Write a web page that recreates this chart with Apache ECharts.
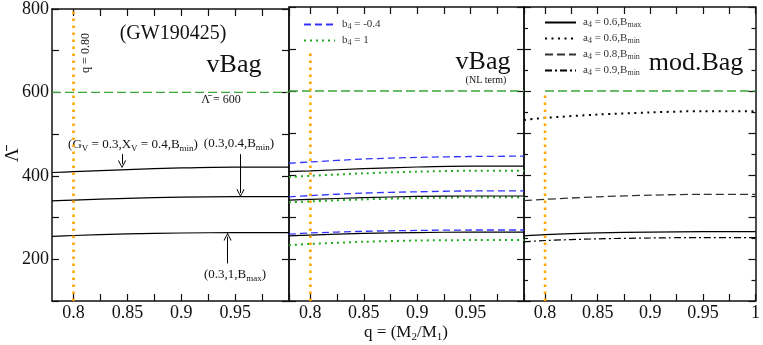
<!DOCTYPE html>
<html><head><meta charset="utf-8">
<script src="https://cdn.jsdelivr.net/npm/echarts@6/dist/echarts.min.js"></script>
<style>html,body{margin:0;padding:0;background:#fff}#c{width:763px;height:345px}</style>
</head><body><div id="c"></div>
<script>
// ---- data ----
const q = [0.78, 0.8, 0.85, 0.9, 0.95, 1.0];
const vBagUpper = [408, 410, 415, 419, 421, 421];
const vBagMiddle = [340, 342, 346, 349, 350, 350];
const vBagLower = [255, 257, 261, 263, 264, 264];
const nlB4m04Upper = [428, 431, 438, 442, 444, 445];
const nlB4m04Middle = [348, 351, 357, 360, 362, 362];
const nlB4m04Lower = [259, 262, 266, 268, 269, 269];
const nlB41Upper = [395, 398, 404, 408, 410, 410];
const nlB41Middle = [335, 337, 342, 345, 347, 347];
const nlB41Lower = [233, 236, 241, 244, 245, 245];
const modA06Bmax = [255, 258, 262, 264, 265, 265];
const modA06Bmin = [531, 536, 544, 549, 552, 552];
const modA08Bmin = [339, 342, 348, 352, 354, 354];
const modA09Bmin = [241, 244, 248, 250, 251, 251];
const lambdaLimit = 600;
const qRef = 0.8;
const xTicks = [0.8, 0.825, 0.85, 0.875, 0.9, 0.925, 0.95, 0.975, 1.0];
const xLabels = [0.8, 0.85, 0.9, 0.95];
const xLabelsLast = [0.8, 0.85, 0.9, 0.95, 1];
const yLabels = [200, 400, 600, 800];

const F = 'Liberation Serif';
const pts = arr => q.map((x, i) => [x, arr[i]]);
const ink = '#111';

function xAx(gi, pos, labels) {
  return {
    type: 'value', gridIndex: gi, position: pos, min: 0.78, max: 1.0,
    axisLine: {show: true, onZero: false, lineStyle: {color: ink, width: 1.5}},
    axisTick: {show: true, inside: true, length: 7, customValues: xTicks, lineStyle: {color: ink, width: 1.2}},
    axisLabel: {show: !!labels, customValues: labels || [], margin: 3, fontFamily: F, fontSize: 18, color: ink},
    splitLine: {show: false}
  };
}
function yAx(gi, pos, labels, minor) {
  return {
    type: 'value', gridIndex: gi, position: pos, min: 100, max: 800, interval: 100,
    axisLine: {show: true, onZero: false, lineStyle: {color: ink, width: 1.5}},
    axisTick: {show: true, inside: true, length: 7, lineStyle: {color: ink, width: 1.2}},
    minorTick: {show: !!minor, splitNumber: 2, length: 4, lineStyle: {color: ink, width: 1.2}},
    axisLabel: {show: !!labels, customValues: labels || [], margin: 3, fontFamily: F, fontSize: 18, color: ink},
    splitLine: {show: false}, minorSplitLine: {show: false}
  };
}
function ln(name, gi, data, color, width, type, extra) {
  return Object.assign({
    name, type: 'line', xAxisIndex: gi * 2, yAxisIndex: gi * 2, data, symbol: 'none', smooth: 0.3,
    lineStyle: {color, width, type, cap: 'butt'}, itemStyle: {color}, silent: true, animation: false
  }, extra || {});
}
const green600 = {color: '#3aa63a', w: 1.3, t: [9, 4]};
const orange = {color: '#ffa500', w: 2.6, t: [2.5, 4.5]};

const arrowPath = 'path://M0,10 L5,0 L10,10 L9,10.8 L5,2.2 L1,10.8 Z';

const series = [
  // left panel
  ln('vBag upper', 0, pts(vBagUpper), '#000', 1.2, 'solid', {
    markLine: {
      silent: true, animation: false, symbol: ['none', arrowPath], symbolSize: [8, 8],
      label: {show: false}, lineStyle: {color: '#000', width: 1, type: 'solid'},
      data: [
        [{coord: [0.845, 452]}, {coord: [0.845, 428]}],
        [{coord: [0.955, 452]}, {coord: [0.955, 359]}],
        [{coord: [0.943, 190]}, {coord: [0.943, 254]}]
      ]
    }
  }),
  ln('vBag middle', 0, pts(vBagMiddle), '#000', 1.2, 'solid'),
  ln('vBag lower', 0, pts(vBagLower), '#000', 1.2, 'solid'),
  ln('limit L', 0, [[0.78, lambdaLimit], [1.0, lambdaLimit]], green600.color, green600.w, green600.t, {smooth: false}),
  ln('qref L', 0, [[qRef, 100], [qRef, 800]], orange.color, orange.w, orange.t, {smooth: false}),
  // middle panel
  ln('b4 = -0.4', 1, pts(nlB4m04Upper), '#3333ff', 1.3, [7, 4]),
  ln('b4 = -0.4', 1, pts(nlB4m04Middle), '#3333ff', 1.3, [7, 4]),
  ln('b4 = -0.4', 1, pts(nlB4m04Lower), '#3333ff', 1.3, [7, 4]),
  ln('b4 = 1', 1, pts(nlB41Upper), '#22aa22', 2, [2, 4]),
  ln('b4 = 1', 1, pts(nlB41Middle), '#22aa22', 2, [2, 4]),
  ln('b4 = 1', 1, pts(nlB41Lower), '#22aa22', 2, [2, 4]),
  ln('vBag upper M', 1, pts(vBagUpper), '#000', 1.2, 'solid'),
  ln('vBag middle M', 1, pts(vBagMiddle), '#000', 1.2, 'solid'),
  ln('vBag lower M', 1, pts(vBagLower), '#000', 1.2, 'solid'),
  ln('limit M', 1, [[0.78, lambdaLimit], [1.0, lambdaLimit]], green600.color, green600.w, green600.t, {smooth: false}),
  ln('qref M', 1, [[qRef, 100], [qRef, 690]], orange.color, orange.w, orange.t, {smooth: false}),
  // right panel
  ln('a4 = 0.6,Bmax', 2, pts(modA06Bmax), '#000', 1.2, 'solid'),
  ln('a4 = 0.6,Bmin', 2, pts(modA06Bmin), '#000', 2, [2, 4.5]),
  ln('a4 = 0.8,Bmin', 2, pts(modA08Bmin), '#333', 1.3, [8, 4]),
  ln('a4 = 0.9,Bmin', 2, pts(modA09Bmin), '#000', 1.2, [7, 3, 2, 3]),
  ln('limit R', 2, [[qRef, lambdaLimit], [1.0, lambdaLimit]], green600.color, green600.w, green600.t, {smooth: false}),
  ln('qref R', 2, [[qRef, 100], [qRef, lambdaLimit]], orange.color, orange.w, orange.t, {smooth: false})
];

const legRich = {
  n: {fontFamily: F, fontSize: 11, color: '#333', lineHeight: 13},
  s: {fontFamily: F, fontSize: 8, color: '#333', lineHeight: 7, verticalAlign: 'bottom'}
};
const legFmt = {
  'b4 = -0.4': '{n|b}{s|4}{n| = -0.4}',
  'b4 = 1': '{n|b}{s|4}{n| = 1}',
  'a4 = 0.6,Bmax': '{n|a}{s|4}{n| = 0.6,B}{s|max}',
  'a4 = 0.6,Bmin': '{n|a}{s|4}{n| = 0.6,B}{s|min}',
  'a4 = 0.8,Bmin': '{n|a}{s|4}{n| = 0.8,B}{s|min}',
  'a4 = 0.9,Bmin': '{n|a}{s|4}{n| = 0.9,B}{s|min}'
};
function legend(data, left, top) {
  return {
    data, left, top, orient: 'vertical', itemWidth: 31, itemHeight: 12, itemGap: 4,
    selectedMode: false, formatter: n => legFmt[n],
    itemStyle: {opacity: 0},
    textStyle: {fontFamily: F, fontSize: 11, color: '#333', padding: [0, 0, 0, 2], rich: legRich}
  };
}

const rich = {
  n: {fontFamily: F, fontSize: 13, lineHeight: 16, fill: '#111'},
  s: {fontFamily: F, fontSize: 9, lineHeight: 8, verticalAlign: 'bottom', fill: '#111'}
};
function txt(x, y, text, size, extra) {
  return Object.assign({
    type: 'text', x, y, silent: true,
    style: {text, fontFamily: F, fontSize: size, fill: '#111', align: 'center', verticalAlign: 'middle', rich}
  }, extra || {});
}
const richAx = {
  n: {fontFamily: F, fontSize: 17, lineHeight: 20, fill: '#111'},
  s: {fontFamily: F, fontSize: 11, lineHeight: 10, verticalAlign: 'bottom', fill: '#111'}
};

const chart = echarts.init(document.getElementById('c'), null, {renderer: 'canvas'});
chart.setOption({
  backgroundColor: '#fff',
  animation: false,
  grid: [
    {left: 52, top: 7, width: 237, height: 294},
    {left: 289, top: 7, width: 235, height: 294},
    {left: 524, top: 7, width: 234, height: 294}
  ],
  xAxis: [xAx(0, 'bottom', xLabels), xAx(0, 'top'), xAx(1, 'bottom', xLabels), xAx(1, 'top'), xAx(2, 'bottom', xLabelsLast), xAx(2, 'top')],
  yAxis: [yAx(0, 'left', yLabels), yAx(0, 'right'), yAx(1, 'left'), yAx(1, 'right'), yAx(2, 'left', null, true), yAx(2, 'right', null, true)],
  legend: [
    legend(['b4 = -0.4', 'b4 = 1'], 298, 14),
    legend(['a4 = 0.6,Bmax', 'a4 = 0.6,Bmin', 'a4 = 0.8,Bmin', 'a4 = 0.9,Bmin'], 539, 12)
  ],
  series,
  graphic: [
    txt(173, 34, '(GW190425)', 20),
    txt(234, 65, 'vBag', 26),
    txt(86, 53, 'q = 0.80', 12, {rotation: Math.PI / 2}),
    txt(221, 100, 'Λ̄ = 600', 12),
    txt(133, 145, '{n|(G}{s|V}{n| = 0.3,X}{s|V}{n| = 0.4,B}{s|min}{n|)}', 13),
    txt(239, 144, '{n|(0.3,0.4,B}{s|min}{n|)}', 13),
    txt(235, 275, '{n|(0.3,1,B}{s|max}{n|)}', 13),
    txt(483, 62, 'vBag', 26),
    txt(486, 80, '(NL term)', 10),
    txt(696, 63, 'mod.Bag', 26),
    {type: 'text', x: 406, y: 333, silent: true,
     style: {text: '{n|q = (M}{s|2}{n|/M}{s|1}{n|)}', rich: richAx, fontFamily: F, fontSize: 17, fill: '#111', align: 'center', verticalAlign: 'middle'}},
    txt(13, 155, 'Λ̄', 19, {rotation: Math.PI / 2})
  ]
});
</script>
</body></html>
